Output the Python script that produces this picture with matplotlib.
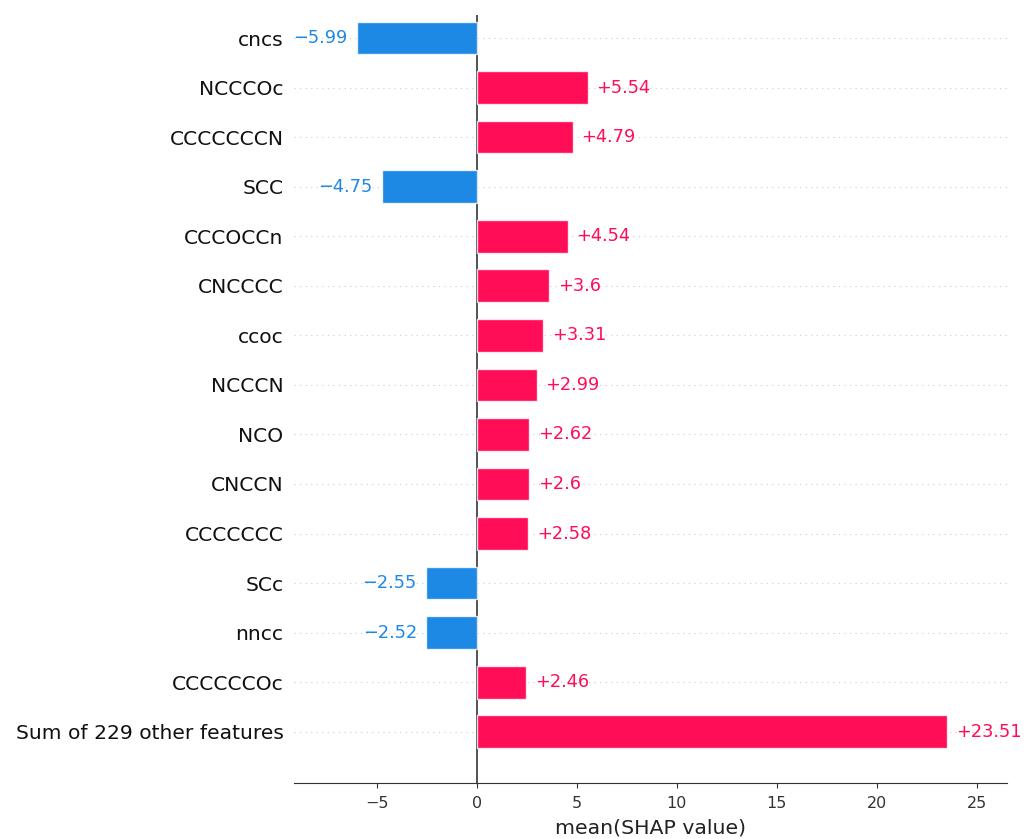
import matplotlib
matplotlib.use("Agg")
import matplotlib.pyplot as plt
import numpy as np

FEATURES = [
    "cncs", "NCCCOc", "CCCCCCCN", "SCC", "CCCOCCn", "CNCCCC", "ccoc",
    "NCCCN", "NCO", "CNCCN", "CCCCCCC", "SCc", "nncc", "CCCCCCOc",
    "Sum of 229 other features",
]
VALUES = [
    -5.99, 5.54, 4.79, -4.75, 4.54, 3.6, 3.31,
    2.99, 2.62, 2.6, 2.58, -2.55, -2.52, 2.46,
    23.51,
]
LABELS = [
    "\u22125.99", "+5.54", "+4.79", "\u22124.75", "+4.54", "+3.6", "+3.31",
    "+2.99", "+2.62", "+2.6", "+2.58", "\u22122.55", "\u22122.52", "+2.46",
    "+23.51",
]

BLUE = "#1E88E5"
RED = "#FF0D57"

fig = plt.figure(figsize=(10.25, 8.39), dpi=100)
ax = fig.add_axes([0.2868, 0.0667, 0.6956, 0.9154])

y_pos = np.arange(len(FEATURES), 0, -1)
colors = [BLUE if v < 0 else RED for v in VALUES]

# dotted row guides behind everything
for y in y_pos:
    ax.axhline(y, color="#cccccc", lw=0.8, dashes=(1, 4), zorder=-1)

ax.axvline(0, 0, 1, color="#444444", lw=1.3, zorder=1)

ax.barh(y_pos, VALUES, 0.66, align="center", color=colors,
        edgecolor=(1, 1, 1, 0.8), linewidth=1, zorder=2)

xmin, xmax = -9.13, 26.5
gap = 0.45
for y, v, lab, c in zip(y_pos, VALUES, LABELS, colors):
    if v < 0:
        ax.text(v - gap, y, lab, ha="right", va="center",
                color=c, fontsize=12.8)
    else:
        ax.text(v + gap, y, lab, ha="left", va="center",
                color=c, fontsize=12.8)

ax.set_yticks(y_pos)
ax.set_yticklabels(FEATURES, fontsize=14.6, color="#111111")
ax.set_xlim(xmin, xmax)
ax.set_ylim(-0.035, len(FEATURES) + 0.464)

ax.set_xticks([-5, 0, 5, 10, 15, 20, 25])
ax.tick_params(axis="x", labelsize=11.5, length=3.6, pad=6, colors="#333333")
ax.tick_params(axis="y", length=0, pad=7.5)
for lbl in ax.get_xticklabels():
    lbl.set_color("#333333")

for side in ("top", "right", "left"):
    ax.spines[side].set_visible(False)
ax.spines["bottom"].set_color("#333333")

ax.set_xlabel("mean(SHAP value)", fontsize=14.7, color="#222222", labelpad=5)

fig.savefig("out.png", dpi=100)
